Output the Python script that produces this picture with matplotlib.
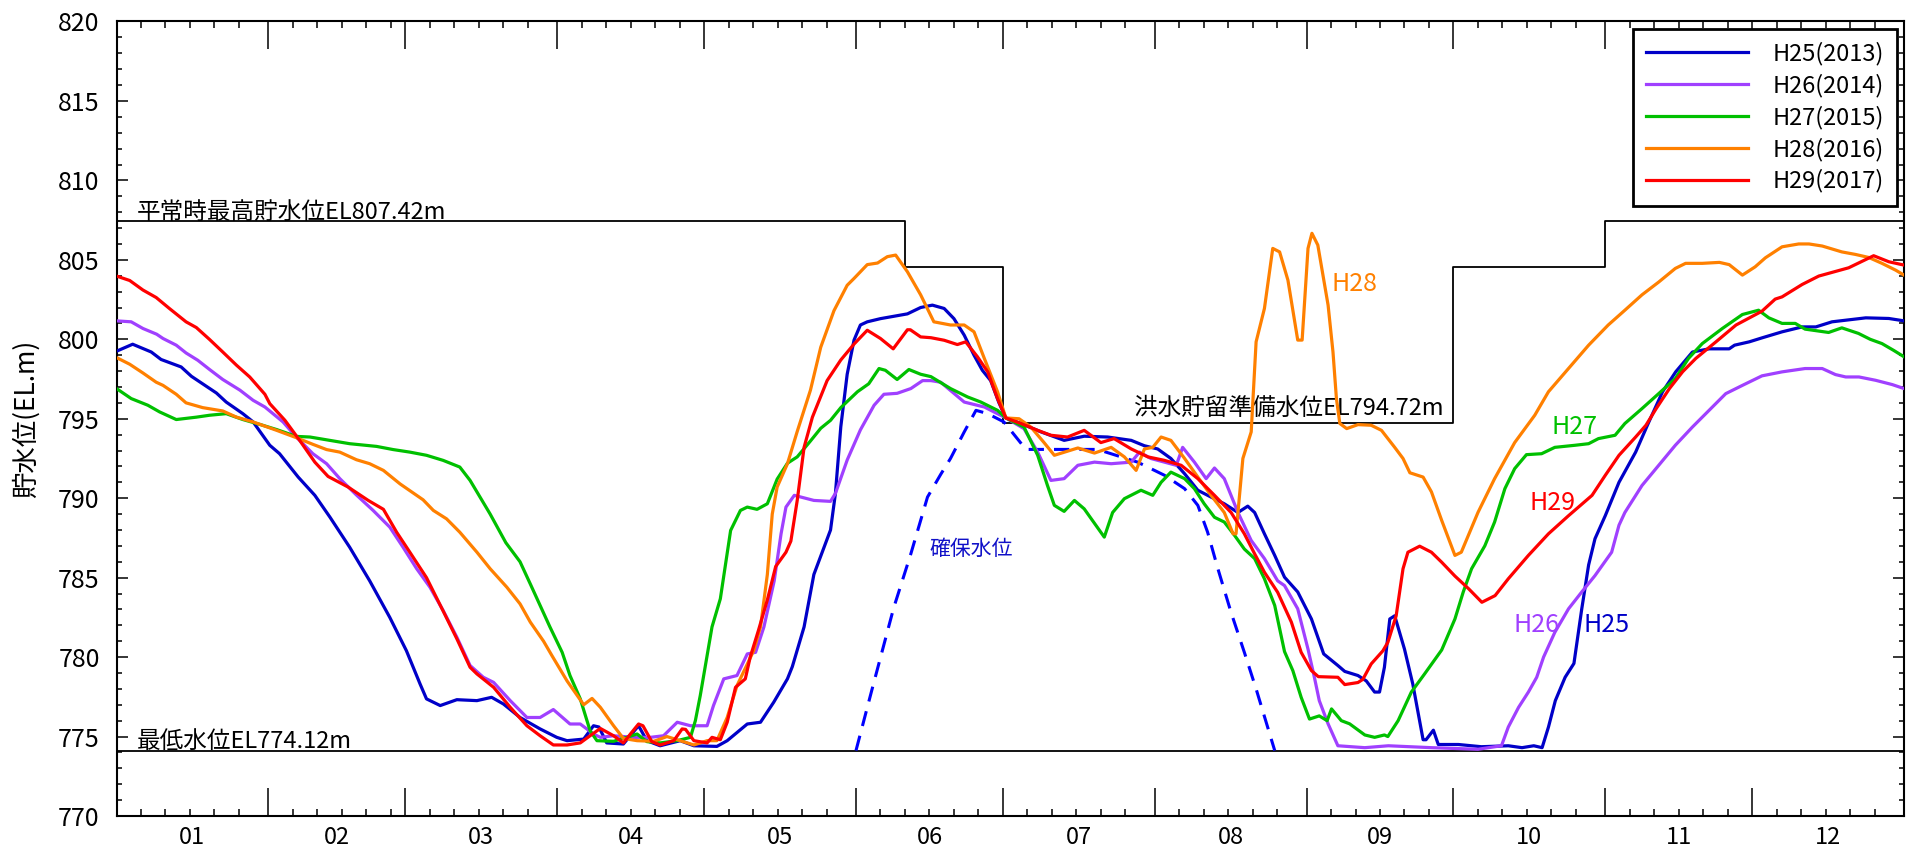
import matplotlib
matplotlib.use('Agg')
import matplotlib.pyplot as plt
from matplotlib.ticker import FixedLocator, MultipleLocator, NullFormatter

plt.rcParams['font.family'] = ['Noto Sans CJK JP', 'DejaVu Sans']

# 日付は1月1日=0 の通日
month_starts = [0, 31, 59, 90, 120, 151, 181, 212, 243, 273, 304, 334, 365]
month_labels = ['01', '02', '03', '04', '05', '06', '07', '08', '09', '10', '11', '12']

# 運用水位 (平常時最高 / 洪水貯留準備)
rule_days = [0, 161, 181, 273, 304, 365]
rule_levels = [807.42, 804.56, 794.72, 804.56, 807.42, 807.42]
min_level = 774.12

# 確保水位
kakuho_days = [151, 154.3, 158.7, 162.2, 165.6, 168.3, 170.3, 173.1, 175.5, 177.9, 181.2, 185.7,
               188.8, 200.3, 208.5, 214.0, 218.1, 220.8, 222.8, 224.9, 227.6, 230.3, 232.7, 236.5]
kakuho_levels = [774.12, 778.0, 783.1, 786.5, 790.07, 791.5, 792.5, 794.17, 795.53, 795.32, 794.8, 793.07,
                 793.07, 793.07, 792.27, 791.44, 790.6, 789.55, 787.86, 785.56, 782.8, 780.3, 778.0, 774.12]

# H25(2013)
h25_days = [0, 3.3, 7.1, 9.1, 13.2, 15.3, 20.4, 22.4, 25.8, 27.9, 31.3, 33.3, 37.1, 40.5, 43.6, 47.6,
            51.7, 55.8, 59.2, 62.0, 63.3, 66.1, 69.5, 73.6, 76.6, 79.0, 82.4, 86.5, 89.9, 92.0, 95.4,
            97.4, 98.5, 100.1, 103.5, 106.6, 108.3, 111.0, 115.1, 117.9, 122.6, 124.7, 128.8, 131.5,
            134.2, 137.0, 138.0, 140.4, 142.4, 144.1, 145.8, 146.8, 147.9, 149.2, 150.6, 151.9, 153.3,
            156.0, 158.7, 161.5, 164.2, 166.6, 169.0, 171.0, 173.1, 175.1, 176.8, 178.5, 180.2, 181.6,
            184.7, 188.8, 193.5, 197.6, 202.4, 207.2, 209.9, 212.6, 215.3, 218.1, 220.8, 223.5, 226.2,
            229.0, 231.0, 232.4, 234.4, 236.5, 238.5, 241.2, 244.0, 246.5, 249.4, 250.8, 253.5, 255.2,
            256.9, 257.9, 258.9, 260.0, 261.0, 263.0, 264.7, 266.8, 267.4, 268.9, 269.9, 274.0, 278.7,
            284.2, 287.0, 289.4, 291.1, 292.4, 293.8, 295.8, 297.6, 299.2, 300.6, 301.9, 304.0, 306.8,
            310.2, 312.9, 315.7, 318.4, 321.8, 325.2, 329.3, 330.4, 333.4, 336.0, 340.1, 344.2, 347.0,
            350.3, 354.4, 357.2, 361.9, 365]
h25_levels = [799.25, 799.69, 799.2, 798.73, 798.26, 797.67, 796.62, 796.05, 795.32, 794.8, 793.33,
              792.8, 791.33, 790.18, 788.8, 786.92, 784.8, 782.5, 780.4, 778.3, 777.37, 776.95, 777.32,
              777.26, 777.47, 777.05, 776.2, 775.48, 774.95, 774.74, 774.84, 775.68, 775.6, 774.6,
              774.53, 775.68, 774.74, 774.42, 774.74, 774.42, 774.38, 774.74, 775.79, 775.9, 777.16,
              778.63, 779.4, 781.9, 785.2, 786.6, 788.0, 790.3, 794.5, 797.8, 799.95, 800.9, 801.1,
              801.3, 801.45, 801.6, 802.0, 802.15, 801.94, 801.3, 800.26, 799.0, 798.05, 797.4, 796.0,
              795.05, 794.7, 794.17, 793.64, 793.9, 793.85, 793.64, 793.3, 793.1, 792.5, 791.54, 790.5,
              790.07, 789.65, 789.1, 789.5, 789.1, 787.76, 786.4, 785.03, 784.1, 782.4, 780.2, 779.47,
              779.1, 778.84, 778.5, 777.8, 777.8, 779.36, 782.4, 782.6, 780.5, 778.3, 774.8, 774.8,
              775.4, 774.5, 774.5, 774.36, 774.42, 774.3, 774.42, 774.3, 775.6, 777.26, 778.73, 779.6,
              783.04, 785.8, 787.45, 788.9, 791.0, 792.9, 794.8, 796.7, 797.96, 799.2, 799.4, 799.4,
              799.63, 799.84, 800.09, 800.47, 800.78, 800.78, 801.1, 801.25, 801.35, 801.31, 801.16]

# H26(2014)
h26_days = [0, 3.0, 5.4, 8.2, 9.5, 12.2, 14.2, 16.6, 19.0, 21.7, 25.2, 27.9, 30.3, 34.0, 36.7, 40.1,
            42.9, 45.6, 49.0, 52.4, 55.8, 58.5, 61.3, 64.0, 66.7, 69.5, 72.2, 74.9, 77.0, 80.4, 83.8,
            86.5, 89.2, 92.6, 94.7, 97.4, 98.8, 101.5, 105.6, 109.0, 111.7, 114.5, 117.2, 120.6,
            121.9, 124.0, 126.7, 128.8, 130.5, 132.2, 134.3, 135.7, 136.7, 138.4, 142.4, 145.8,
            146.8, 149.2, 151.9, 154.7, 156.7, 159.4, 162.2, 164.6, 166.3, 168.3, 173.1, 177.2,
            181.6, 185.3, 188.1, 190.8, 193.5, 196.3, 199.7, 203.1, 207.2, 208.9, 211.2, 214.0,
            216.4, 217.7, 220.1, 222.5, 224.2, 226.2, 229.0, 231.7, 234.4, 237.1, 238.5, 241.2,
            243.3, 244.6, 245.6, 247.4, 249.4, 254.9, 259.7, 268.5, 278.0, 282.8, 284.2, 286.3,
            288.3, 290.0, 291.4, 293.7, 296.5, 299.2, 301.9, 305.3, 306.8, 308.0, 311.5, 314.9,
            318.3, 321.8, 325.2, 328.6, 332.0, 336.0, 340.1, 344.8, 348.3, 351.0, 353.1, 355.8,
            359.2, 362.6, 365]
h26_levels = [801.16, 801.1, 800.68, 800.32, 800.05, 799.63, 799.14, 798.68, 798.1, 797.47, 796.8,
              796.16, 795.74, 794.8, 793.85, 792.8, 792.17, 791.23, 790.2, 789.23, 788.18, 786.92,
              785.56, 784.4, 782.93, 781.25, 779.47, 778.73, 778.41, 777.26, 776.2, 776.2, 776.7,
              775.79, 775.79, 775.16, 774.95, 775.05, 774.95, 774.95, 775.05, 775.9, 775.68, 775.68,
              776.95, 778.63, 778.84, 780.2, 780.3, 781.9, 784.8, 787.76, 789.44, 790.18, 789.86,
              789.8, 790.3, 792.4, 794.3, 795.85, 796.54, 796.6, 796.9, 797.4, 797.4, 797.3, 796.05,
              795.74, 795.05, 794.38, 792.9, 791.12, 791.23, 792.07, 792.27, 792.17, 792.27, 792.9,
              792.5, 792.27, 792.07, 793.2, 792.27, 791.23, 791.9, 791.23, 789.1, 787.34, 786.2,
              784.8, 784.5, 783.04, 780.5, 778.73, 777.26, 775.8, 774.42, 774.3, 774.42, 774.3,
              774.2, 774.42, 775.6, 776.84, 777.8, 778.73, 780.0, 781.56, 783.04, 784.1, 785.13,
              786.6, 788.3, 789.1, 790.8, 792.07, 793.33, 794.48, 795.53, 796.58, 797.1, 797.7,
              797.95, 798.16, 798.16, 797.78, 797.63, 797.63, 797.42, 797.15, 796.9]

# H27(2015)
h27_days = [0, 3.0, 6.4, 8.8, 12.2, 16.3, 19.0, 22.4, 25.8, 29.2, 32.7, 36.7, 39.5, 43.6, 47.6, 53.1,
            56.5, 59.9, 63.3, 66.7, 70.1, 72.2, 76.3, 79.5, 82.4, 84.5, 88.5, 91.0, 92.6, 94.7, 96.7,
            98.1, 101.5, 104.2, 106.3, 108.3, 111.0, 114.5, 117.2, 118.2, 119.2, 120.6, 121.6, 123.3,
            125.4, 127.4, 128.8, 130.8, 132.9, 134.9, 137.0, 139.0, 141.7, 143.8, 145.8, 147.9,
            151.3, 153.6, 155.7, 157.0, 159.4, 161.8, 164.2, 166.3, 170.3, 173.8, 176.5, 179.9,
            181.6, 185.3, 188.1, 190.1, 191.5, 193.5, 195.6, 197.6, 201.7, 203.4, 205.8, 209.2,
            211.6, 213.3, 215.3, 218.1, 220.1, 222.1, 224.2, 226.2, 228.3, 230.3, 232.4, 234.4,
            236.5, 238.5, 240.2, 241.9, 243.6, 245.6, 247.2, 248.1, 250.1, 251.8, 254.9, 256.9,
            258.9, 259.6, 261.7, 264.4, 267.1, 270.6, 273.3, 275.0, 276.7, 279.4, 281.4, 283.5,
            285.5, 287.9, 291.0, 293.7, 297.8, 300.6, 302.6, 306.0, 308.0, 311.5, 314.9, 318.3,
            321.0, 323.8, 327.9, 332.0, 335.3, 337.4, 340.1, 342.8, 344.8, 349.6, 352.3, 355.7,
            358.1, 360.5, 362.9, 365]
h27_levels = [796.9, 796.27, 795.85, 795.43, 794.95, 795.1, 795.22, 795.32, 794.95, 794.65, 794.32,
              793.89, 793.85, 793.64, 793.43, 793.26, 793.06, 792.9, 792.7, 792.38, 791.96, 791.12,
              789.0, 787.2, 786.0, 784.6, 781.9, 780.3, 778.84, 777.37, 775.37, 774.74, 774.7,
              774.95, 775.16, 774.68, 774.6, 774.74, 774.95, 776.0, 777.58, 780.1, 781.9, 783.67,
              787.97, 789.23, 789.44, 789.3, 789.65, 791.2, 792.2, 792.6, 793.6, 794.4, 794.9, 795.7,
              796.7, 797.2, 798.16, 798.05, 797.47, 798.1, 797.8, 797.65, 796.9, 796.37, 796.05,
              795.53, 795.05, 794.48, 792.7, 790.8, 789.55, 789.17, 789.86, 789.33, 787.55, 789.1,
              789.97, 790.5, 790.18, 791.0, 791.64, 791.23, 790.6, 789.65, 788.8, 788.5, 787.66,
              786.8, 786.2, 784.93, 783.25, 780.35, 779.15, 777.47, 776.1, 776.3, 776.0, 776.74,
              776.0, 775.8, 775.1, 774.95, 775.1, 775.0, 776.0, 777.8, 778.94, 780.45, 782.4, 784.1,
              785.56, 787.0, 788.5, 790.6, 791.86, 792.74, 792.8, 793.2, 793.33, 793.43, 793.75,
              793.96, 794.7, 795.64, 796.58, 797.53, 798.8, 799.73, 800.68, 801.56, 801.83, 801.35,
              801.0, 801.0, 800.64, 800.43, 800.72, 800.37, 800.0, 799.73, 799.3, 798.9]

# H28(2016)
h28_days = [0, 2.7, 5.4, 8.1, 9.5, 12.2, 14.2, 17.6, 21.7, 24.5, 27.9, 32.7, 36.7, 40.1, 42.9, 45.6,
            49.0, 51.7, 54.5, 57.9, 62.6, 64.7, 67.4, 70.1, 73.6, 76.3, 79.7, 82.4, 84.5, 87.2, 88.9,
            92.0, 95.4, 97.1, 98.8, 101.5, 103.5, 106.3, 109.7, 112.4, 115.1, 117.9, 120.6, 122.6,
            124.7, 126.7, 130.1, 131.5, 132.9, 133.9, 134.9, 137.0, 139.0, 141.7, 143.8, 146.5,
            149.2, 150.6, 153.3, 155.4, 157.4, 159.1, 161.5, 164.2, 166.9, 170.3, 173.1, 175.1,
            177.2, 179.9, 181.6, 184.3, 186.7, 189.4, 191.5, 196.3, 199.7, 203.1, 205.8, 208.2,
            209.9, 211.6, 213.3, 215.3, 218.1, 220.8, 223.5, 226.2, 228.0, 228.6, 230.0, 231.7,
            232.7, 234.4, 236.1, 237.5, 239.2, 241.2, 242.1, 243.3, 244.1, 245.3, 247.4, 248.4,
            249.1, 249.8, 251.2, 253.5, 256.2, 258.3, 261.0, 262.7, 264.1, 266.8, 268.5, 270.6,
            273.3, 274.6, 278.0, 281.4, 285.5, 289.6, 292.4, 296.5, 300.6, 304.6, 308.0, 311.5,
            314.9, 318.3, 320.4, 323.8, 327.3, 329.3, 332.0, 334.6, 336.7, 340.1, 343.5, 345.6,
            348.3, 352.3, 355.1, 357.8, 360.5, 363.3, 365]
h28_levels = [798.85, 798.43, 797.88, 797.3, 797.1, 796.54, 796.0, 795.7, 795.49, 795.1, 794.8,
              794.27, 793.81, 793.39, 793.06, 792.9, 792.42, 792.17, 791.75, 790.9, 789.9, 789.23,
              788.7, 787.86, 786.6, 785.56, 784.4, 783.35, 782.2, 781.0, 780.1, 778.5, 777.0, 777.4,
              776.84, 775.68, 774.88, 774.74, 774.7, 775.0, 774.74, 774.47, 774.74, 774.74, 776.2,
              778.2, 780.4, 781.9, 785.2, 789.0, 790.7, 792.17, 794.2, 796.8, 799.5, 801.8, 803.4,
              803.83, 804.7, 804.8, 805.2, 805.3, 804.25, 802.8, 801.1, 800.9, 800.9, 800.47, 798.8,
              796.7, 795.05, 795.0, 794.48, 793.5, 792.7, 793.16, 792.84, 793.2, 792.6, 791.75,
              793.1, 793.2, 793.85, 793.64, 792.5, 791.33, 790.18, 789.1, 787.76, 787.76, 792.5,
              794.17, 799.84, 801.94, 805.72, 805.5, 803.72, 799.95, 799.95, 805.72, 806.67, 805.93,
              802.15, 799.2, 796.27, 794.7, 794.38, 794.63, 794.59, 794.27, 793.2, 792.5, 791.6,
              791.33, 790.4, 788.6, 786.4, 786.6, 789.1, 791.23, 793.5, 795.22, 796.7, 798.16,
              799.63, 800.9, 801.83, 802.8, 803.6, 804.46, 804.78, 804.78, 804.84, 804.7, 804.04,
              804.56, 805.13, 805.82, 806.0, 806.0, 805.87, 805.5, 805.34, 805.15, 804.78, 804.35,
              804.04]

# H29(2017)
h29_days = [0, 2.7, 5.4, 8.1, 10.8, 14.2, 16.3, 19.0, 21.7, 24.5, 27.2, 30.3, 31.3, 34.4, 37.4, 40.5,
            43.2, 47.3, 51.4, 54.5, 57.2, 59.9, 63.3, 66.7, 69.5, 72.2, 73.6, 77.0, 80.4, 83.8, 86.5,
            89.2, 92.0, 94.7, 96.7, 98.8, 101.5, 103.5, 105.2, 106.6, 107.5, 109.3, 111.0, 113.8,
            115.5, 116.2, 117.9, 120.6, 121.6, 123.3, 124.7, 126.4, 128.4, 129.4, 131.1, 132.9,
            134.6, 136.7, 137.7, 139.0, 140.4, 142.1, 145.1, 147.9, 150.6, 153.3, 156.0, 158.6,
            161.5, 162.1, 164.2, 166.3, 169.0, 171.7, 173.4, 175.8, 177.9, 179.9, 181.6, 184.7,
            188.1, 190.8, 194.2, 197.6, 201.0, 203.7, 207.2, 210.6, 214.0, 217.4, 220.8, 224.2,
            227.6, 230.3, 232.4, 234.4, 237.1, 239.9, 241.9, 244.0, 245.4, 249.4, 250.8, 253.5,
            254.5, 256.2, 258.6, 259.6, 261.3, 262.7, 263.7, 266.1, 268.5, 270.6, 273.3, 276.1,
            278.8, 281.5, 284.2, 288.3, 292.4, 296.5, 301.3, 304.0, 306.8, 310.2, 312.3, 314.4,
            317.1, 319.8, 322.5, 326.6, 330.7, 336.0, 338.7, 340.1, 344.2, 347.6, 350.3, 353.7,
            356.5, 358.8, 361.9, 365]
h29_levels = [803.98, 803.7, 803.1, 802.63, 801.94, 801.1, 800.74, 799.99, 799.2, 798.37, 797.63,
              796.54, 795.95, 794.9, 793.64, 792.27, 791.37, 790.7, 789.86, 789.3, 787.86, 786.6,
              785.0, 782.9, 781.15, 779.36, 778.94, 778.1, 776.84, 775.68, 775.05, 774.47, 774.47,
              774.6, 775.05, 775.51, 775.05, 774.6, 775.26, 775.79, 775.68, 774.68, 774.47, 774.74,
              775.48, 775.45, 774.74, 774.6, 774.95, 774.8, 775.9, 778.1, 778.63, 780.0, 781.7,
              783.6, 785.7, 786.6, 787.3, 789.86, 793.2, 795.1, 797.4, 798.7, 799.7, 800.57, 800.05,
              799.4, 800.6, 800.6, 800.15, 800.1, 799.94, 799.67, 799.84, 798.9, 797.95, 796.27,
              795.05, 794.7, 794.27, 793.96, 793.85, 794.27, 793.5, 793.75, 793.1, 792.6, 792.38,
              792.07, 791.23, 790.18, 789.1, 787.76, 786.5, 785.34, 784.08, 782.2, 780.3, 779.15,
              778.77, 778.73, 778.27, 778.4, 778.6, 779.57, 780.4, 780.93, 782.6, 785.56, 786.6,
              786.98, 786.6, 785.97, 785.1, 784.3, 783.45, 783.87, 784.93, 786.4, 787.76, 788.9,
              790.18, 791.44, 792.7, 793.85, 794.59, 795.64, 796.9, 797.96, 798.8, 799.84, 800.9,
              801.77, 802.53, 802.67, 803.45, 803.98, 804.21, 804.5, 804.92, 805.26, 804.88, 804.67]

series = [
    ('H25(2013)', h25_days, h25_levels, '#0000C8', 'H25', 299.6, 782.0),
    ('H26(2014)', h26_days, h26_levels, '#A040FF', 'H26', 285.3, 782.0),
    ('H27(2015)', h27_days, h27_levels, '#00C000', 'H27', 293.1, 794.45),
    ('H28(2016)', h28_days, h28_levels, '#FF8000', 'H28', 248.1, 803.5),
    ('H29(2017)', h29_days, h29_levels, '#FF0000', 'H29', 288.5, 789.7),
]

fig = plt.figure(figsize=(19.08, 8.51), dpi=100)
ax = fig.add_axes([0.06106, 0.04113, 0.93685, 0.93361])

# 運用水位の階段線と最低水位
ax.plot(rule_days, rule_levels, color='black', lw=1.3, drawstyle='steps-post', zorder=2)
ax.axhline(min_level, color='black', lw=1.3, zorder=2)

ax.plot(kakuho_days, kakuho_levels, color='#0000FF', lw=2.2, dashes=(5, 3.3), zorder=3)

for name, d, v, c, short, tx, ty in series:
    ax.plot(d, v, color=c, lw=2.3, label=name, zorder=4)
    ax.text(tx, ty, short, color=c, fontsize=18, ha='left', va='center', zorder=5)

ax.text(4.1, 807.55, '平常時最高貯水位EL807.42m', fontsize=17, ha='left', va='baseline')
ax.text(207.8, 795.25, '洪水貯留準備水位EL794.72m', fontsize=17, ha='left', va='baseline')
ax.text(4.1, 774.3, '最低水位EL774.12m', fontsize=17, ha='left', va='baseline')
ax.text(174.6, 786.8, '確保水位', fontsize=15, color='#1010C8', ha='center', va='center')

ax.set_xlim(0, 365)
ax.set_ylim(770, 820)

# x軸: 月境界に長い目盛、5日毎に短い目盛
ax.xaxis.set_major_locator(FixedLocator(month_starts))
minor_x = [m + k for m in month_starts[:-1] for k in (5, 10, 15, 20, 25)]
ax.xaxis.set_minor_locator(FixedLocator(minor_x))
ax.xaxis.set_major_formatter(NullFormatter())
ax.tick_params(axis='x', which='major', direction='in', length=20, width=1.1, top=True, bottom=True)
ax.tick_params(axis='x', which='minor', direction='in', length=5, width=1.1, top=True, bottom=True)

for i, lab in enumerate(month_labels):
    mid = (month_starts[i] + month_starts[i + 1]) / 2
    ax.text(mid, -0.027, lab, transform=ax.get_xaxis_transform(), fontsize=17,
            ha='center', va='center')

ax.yaxis.set_major_locator(MultipleLocator(5))
ax.yaxis.set_minor_locator(MultipleLocator(1))
ax.tick_params(axis='y', which='major', direction='in', length=8, width=1.1, left=True, right=True,
               labelsize=18, pad=12)
ax.tick_params(axis='y', which='minor', direction='in', length=3.5, width=1.1, left=True, right=True)

ax.set_ylabel('貯水位(EL.m)', fontsize=19)
ax.yaxis.set_label_coords(-0.043, 0.5)

for sp in ax.spines.values():
    sp.set_linewidth(1.5)

leg = ax.legend(loc='upper right', fontsize=17, fancybox=False, framealpha=1, edgecolor='black',
                borderaxespad=0.3, borderpad=0.55, handlelength=4.3, handletextpad=1.05,
                labelspacing=0.35)
leg.get_frame().set_linewidth(2)

fig.savefig('out.png', dpi=100)
